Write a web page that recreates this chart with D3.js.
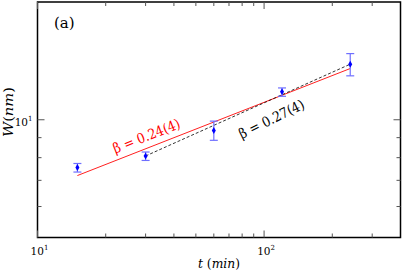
<!DOCTYPE html>
<html>
<head>
<meta charset="utf-8">
<script src="https://cdn.jsdelivr.net/npm/d3@7"></script>
<style>
  body { margin: 0; background: #fff; }
  svg { display: block; }
</style>
</head>
<body>
<svg id="chart" width="403" height="273" font-family="DejaVu Serif, Liberation Serif, serif"></svg>
<script>
// measured widths W(t), log-log
const times = [15, 30, 60, 120, 240];
const widths = [7.55, 8.08, 9.39, 11.8, 13.87];
const errLow = [7.35, 7.87, 8.86, 11.48, 12.95];
const errHigh = [7.73, 8.27, 9.92, 12.06, 14.76];

// fit lines (end points)
const fitAll = [[15, 7.2], [240, 13.52]];
const fitLate = [[30, 8.08], [240, 13.87]];

const xMinor = [20, 30, 40, 50, 60, 70, 80, 90, 200, 300];
const xMajor = [10, 100];
const yMinor = [6, 7, 8, 9];
const yMajor = [10];

const svg = d3.select("#chart");
const pLeft = 37.5, pRight = 400.5, pTop = 2, pBottom = 237.5;

const x = d3.scaleLog().domain([10, 400]).range([pLeft, pRight]);
const y = d3.scaleLog().domain([5, 20]).range([pBottom, pTop]);

svg.append("rect")
  .attr("x", pLeft).attr("y", pTop)
  .attr("width", pRight - pLeft).attr("height", pBottom - pTop)
  .attr("fill", "none").attr("stroke", "#000").attr("stroke-width", 1.5);

// ticks, pointing inward on all four sides
const tickColor = "#555";
function xTicks(vals, len) {
  vals.forEach(v => {
    svg.append("line").attr("x1", x(v)).attr("x2", x(v))
      .attr("y1", pBottom).attr("y2", pBottom - len)
      .attr("stroke", tickColor).attr("stroke-width", 1);
    svg.append("line").attr("x1", x(v)).attr("x2", x(v))
      .attr("y1", pTop).attr("y2", pTop + len)
      .attr("stroke", tickColor).attr("stroke-width", 1);
  });
}
function yTicks(vals, len) {
  vals.forEach(v => {
    svg.append("line").attr("x1", pLeft).attr("x2", pLeft + len)
      .attr("y1", y(v)).attr("y2", y(v))
      .attr("stroke", tickColor).attr("stroke-width", 1);
    svg.append("line").attr("x1", pRight).attr("x2", pRight - len)
      .attr("y1", y(v)).attr("y2", y(v))
      .attr("stroke", tickColor).attr("stroke-width", 1);
  });
}
xTicks(xMinor, 4);
xTicks(xMajor, 7);
yTicks(yMinor, 4);
yTicks(yMajor, 7);

// tick labels 10^1, 10^2
[[10, "1"], [100, "2"]].forEach(([v, e]) => {
  const t = svg.append("text").attr("x", x(v) + 2).attr("y", 255)
    .attr("text-anchor", "middle").attr("font-size", 10.5);
  t.append("tspan").text("10");
  t.append("tspan").attr("dy", -5).attr("font-size", 7).text(e);
});
{
  const t = svg.append("text").attr("x", 32.5).attr("y", y(10) + 6)
    .attr("text-anchor", "end").attr("font-size", 10.5);
  t.append("tspan").text("10");
  t.append("tspan").attr("dy", -5).attr("font-size", 7).text("1");
}

// axis titles
{
  const t = svg.append("text").attr("x", 219).attr("y", 268)
    .attr("text-anchor", "middle").attr("font-size", 13)
    .attr("textLength", 42).attr("lengthAdjust", "spacingAndGlyphs");
  t.append("tspan").attr("font-style", "italic").text("t");
  t.append("tspan").text(" (");
  t.append("tspan").attr("font-style", "italic").text("min");
  t.append("tspan").text(")");
}
{
  const t = svg.append("text")
    .attr("transform", `translate(13,112) rotate(-90)`)
    .attr("text-anchor", "middle").attr("font-size", 13)
    .attr("textLength", 50).attr("lengthAdjust", "spacingAndGlyphs");
  t.append("tspan").attr("font-style", "italic").text("W");
  t.append("tspan").text("(");
  t.append("tspan").attr("font-style", "italic").text("nm");
  t.append("tspan").text(")");
}

svg.append("text").attr("x", 54).attr("y", 28).attr("font-size", 15).text("(a)");

// fit lines
const line = d3.line().x(d => x(d[0])).y(d => y(d[1]));
svg.append("path").attr("d", line(fitAll))
  .attr("fill", "none").attr("stroke", "#ff2020").attr("stroke-width", 1);
svg.append("path").attr("d", line(fitLate))
  .attr("fill", "none").attr("stroke", "#000").attr("stroke-width", 0.8)
  .attr("stroke-dasharray", "3,2");

// error bars
const pts = times.map((t, i) => ({ t, w: widths[i], lo: errLow[i], hi: errHigh[i] }));
const eb = svg.append("g").attr("stroke", "#6f6fff").attr("stroke-width", 1.2);
pts.forEach(d => {
  eb.append("line").attr("x1", x(d.t)).attr("x2", x(d.t))
    .attr("y1", y(d.lo)).attr("y2", y(d.hi));
  [d.lo, d.hi].forEach(v => {
    eb.append("line").attr("x1", x(d.t) - 4).attr("x2", x(d.t) + 4)
      .attr("y1", y(v)).attr("y2", y(v));
  });
});
svg.selectAll("path.pt").data(pts).enter().append("path")
  .attr("class", "pt")
  .attr("d", d3.symbol(d3.symbolDiamond, 14))
  .attr("transform", d => `translate(${x(d.t)},${y(d.w)})`)
  .attr("fill", "#0000ff");

// slope labels
svg.append("text")
  .attr("transform", "translate(146.5,136) rotate(-21.5)")
  .attr("dy", "0.35em")
  .attr("text-anchor", "middle").attr("font-size", 14).attr("fill", "#ff0000")
  .attr("textLength", 71).attr("lengthAdjust", "spacingAndGlyphs")
  .text("β = 0.24(4)");
svg.append("text")
  .attr("transform", "translate(271.5,119) rotate(-26)")
  .attr("dy", "0.35em")
  .attr("text-anchor", "middle").attr("font-size", 14).attr("fill", "#000")
  .attr("textLength", 71).attr("lengthAdjust", "spacingAndGlyphs")
  .text("β = 0.27(4)");
</script>
</body>
</html>
